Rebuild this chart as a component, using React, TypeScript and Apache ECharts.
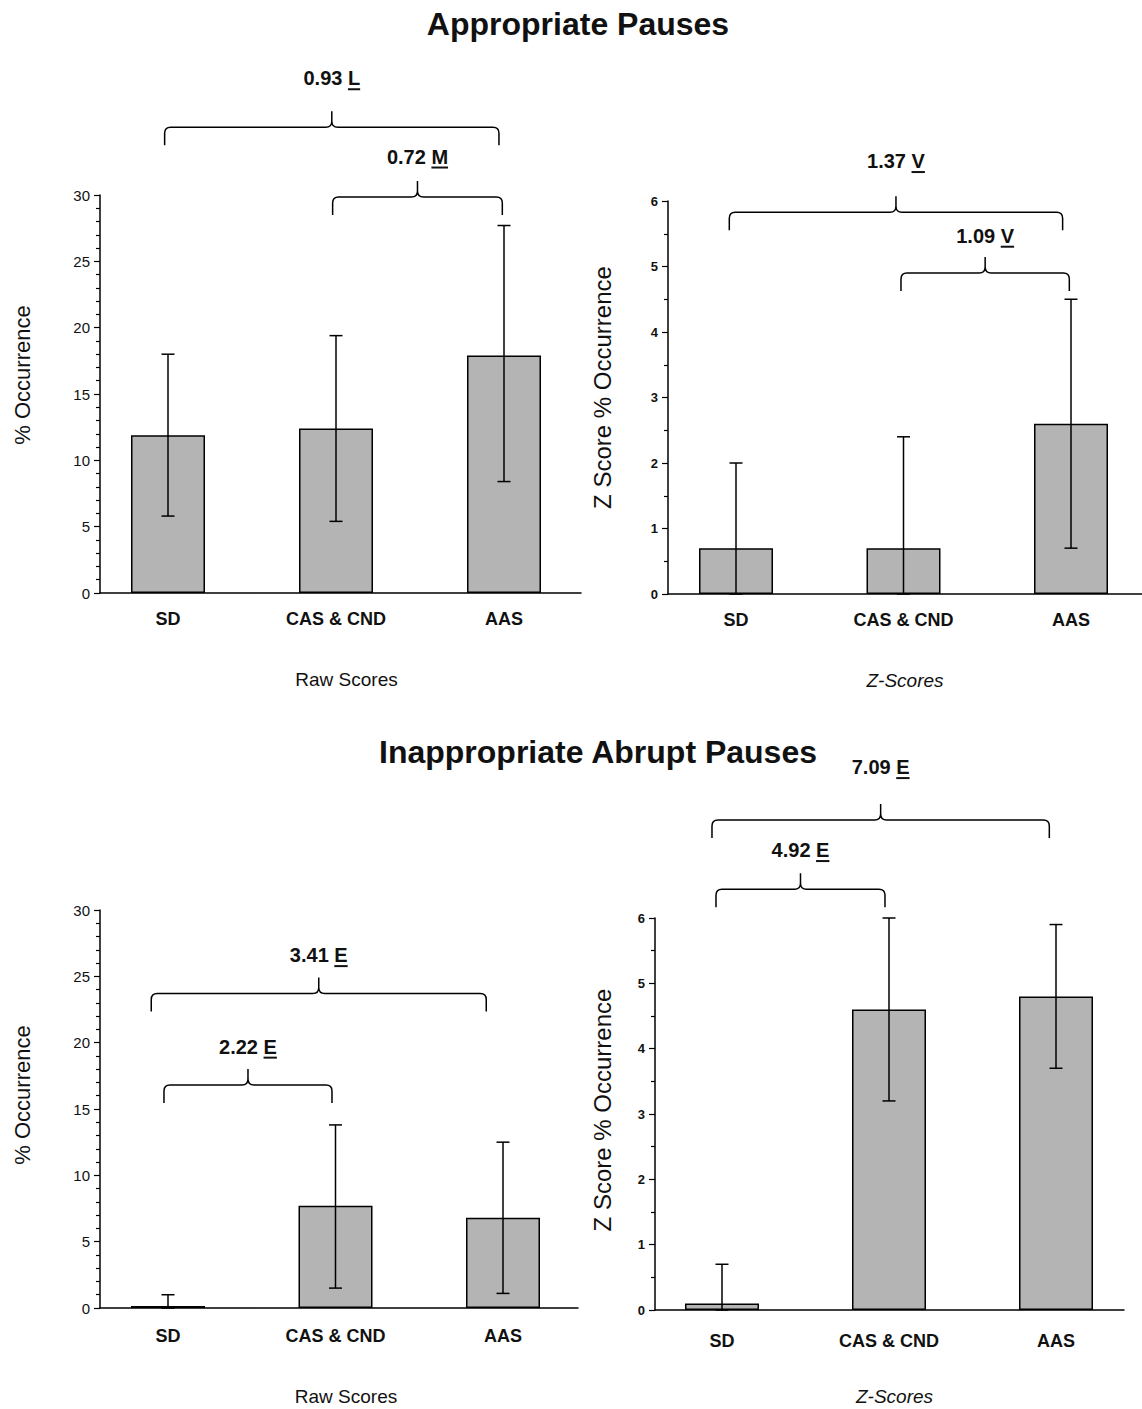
import React, { useEffect, useRef } from "react";
import * as echarts from "echarts";

// ---------- data ----------
const categories = ["SD", "CAS & CND", "AAS"];

// Appropriate Pauses – raw scores (% occurrence)
const apRawMean = [11.9, 12.4, 17.9];
const apRawLow = [5.8, 5.4, 8.4];
const apRawHigh = [18.0, 19.4, 27.7];
// Appropriate Pauses – z-scores
const apZMean = [0.7, 0.7, 2.6];
const apZLow = [0, 0, 0.7];
const apZHigh = [2.0, 2.4, 4.5];
// Inappropriate Abrupt Pauses – raw scores
const iaRawMean = [0.15, 7.7, 6.8];
const iaRawLow = [0, 1.5, 1.1];
const iaRawHigh = [1.0, 13.8, 12.5];
// Inappropriate Abrupt Pauses – z-scores
const iaZMean = [0.1, 4.6, 4.8];
const iaZLow = [0, 3.2, 3.7];
const iaZHigh = [0.7, 6.0, 5.9];

// effect-size brackets: [fromCategory, toCategory, bracketLevel, labelLevel] (data units)
const apRawBrackets = [[-0.02, 1.97, 35.1, 38.8], [0.98, 1.99, 29.85, 32.9]];
const apRawEffects = [["0.93", "L"], ["0.72", "M"]];
const apZBrackets = [[-0.04, 1.95, 5.83, 6.61], [0.985, 1.99, 4.9, 5.47]];
const apZEffects = [["1.37", "V"], ["1.09", "V"]];
const iaRawBrackets = [[-0.1, 1.9, 23.7, 26.6], [-0.024, 0.979, 16.81, 19.7]];
const iaRawEffects = [["3.41", "E"], ["2.22", "E"]];
const iaZBrackets = [[-0.06, 1.96, 7.5, 8.31], [-0.036, 0.976, 6.44, 7.04]];
const iaZEffects = [["7.09", "E"], ["4.92", "E"]];

// axis scales
const rawMax = 30;
const rawInterval = 5;
const zMax = 6;
const zInterval = 1;

const titles = ["Appropriate Pauses", "Inappropriate Abrupt Pauses"];
const xNames = ["Raw Scores", "Z-Scores"];
const yNames = ["% Occurrence", "Z Score % Occurrence"];

// ---------- layout ----------
const FONT = '"Liberation Sans", Arial, Helvetica, sans-serif';

type Panel = {
  grid: { left: number; top: number; width: number; height: number };
  unit: number;
  offset: number;
  mean: number[];
  low: number[];
  high: number[];
  brackets: number[][];
  effects: string[][];
  max: number;
  interval: number;
  minorSplit: number;
  xName: string;
  yName: string;
  italic: boolean;
  tickFont: number;
  tickBold: boolean;
  labelMargin: number;
  xNameGap: number;
  xNamePad: number;
  yNameGap: number;
  yNamePad: number;
  yNameSize: number;
};

const panels: Panel[] = [
  {
    grid: { left: 100, top: 195, width: 481, height: 398 },
    unit: 168, offset: 68,
    mean: apRawMean, low: apRawLow, high: apRawHigh,
    brackets: apRawBrackets, effects: apRawEffects,
    max: rawMax, interval: rawInterval, minorSplit: 5,
    xName: xNames[0], yName: yNames[0], italic: false,
    tickFont: 15, tickBold: false, labelMargin: 17,
    xNameGap: 77, xNamePad: 12, yNameGap: 67, yNamePad: 38, yNameSize: 22,
  },
  {
    grid: { left: 668, top: 201, width: 474, height: 393 },
    unit: 167.5, offset: 68,
    mean: apZMean, low: apZLow, high: apZHigh,
    brackets: apZBrackets, effects: apZEffects,
    max: zMax, interval: zInterval, minorSplit: 2,
    xName: xNames[1], yName: yNames[1], italic: true,
    tickFont: 13, tickBold: true, labelMargin: 17,
    xNameGap: 77, xNamePad: 0, yNameGap: 54, yNamePad: 20, yNameSize: 24,
  },
  {
    grid: { left: 100, top: 910, width: 478, height: 398 },
    unit: 167.5, offset: 68,
    mean: iaRawMean, low: iaRawLow, high: iaRawHigh,
    brackets: iaRawBrackets, effects: iaRawEffects,
    max: rawMax, interval: rawInterval, minorSplit: 5,
    xName: xNames[0], yName: yNames[0], italic: false,
    tickFont: 15, tickBold: false, labelMargin: 19,
    xNameGap: 79, xNamePad: 14, yNameGap: 67, yNamePad: 28, yNameSize: 22,
  },
  {
    grid: { left: 655, top: 918, width: 469, height: 392 },
    unit: 167, offset: 67,
    mean: iaZMean, low: iaZLow, high: iaZHigh,
    brackets: iaZBrackets, effects: iaZEffects,
    max: zMax, interval: zInterval, minorSplit: 2,
    xName: xNames[1], yName: yNames[1], italic: true,
    tickFont: 13, tickBold: true, labelMargin: 22,
    xNameGap: 77, xNamePad: 10, yNameGap: 41, yNamePad: 8, yNameSize: 24,
  },
];

let measureCtx: CanvasRenderingContext2D | null = null;
function textWidth(text: string, font: string): number {
  if (!measureCtx) measureCtx = document.createElement("canvas").getContext("2d");
  if (!measureCtx) return text.length * 10;
  measureCtx.font = font;
  return measureCtx.measureText(text).width;
}

function buildOption() {
  const grid: any[] = [];
  const xAxis: any[] = [];
  const yAxis: any[] = [];
  const series: any[] = [];

  panels.forEach((p, i) => {
    grid.push({ ...p.grid, containLabel: false });
    const xMin = -p.offset / p.unit;
    const xMax = xMin + p.grid.width / p.unit;
    xAxis.push({
      type: "value",
      gridIndex: i,
      min: xMin,
      max: xMax,
      axisLine: { show: true, onZero: false, lineStyle: { color: "#000", width: 1.5 } },
      axisTick: { show: false },
      splitLine: { show: false },
      axisLabel: {
        customValues: [0, 1, 2],
        formatter: (v: number) => categories[Math.round(v)] ?? "",
        fontFamily: FONT,
        fontWeight: "bold",
        fontSize: 18,
        color: "#111",
        margin: p.labelMargin,
      },
      name: p.xName,
      nameLocation: "middle",
      nameGap: p.xNameGap,
      nameTextStyle: {
        fontFamily: FONT,
        fontSize: 19,
        fontStyle: p.italic ? "italic" : "normal",
        color: "#111",
        padding: [0, 0, 0, p.xNamePad],
      },
    });
    yAxis.push({
      type: "value",
      gridIndex: i,
      min: 0,
      max: p.max,
      interval: p.interval,
      axisLine: { show: true, onZero: false, lineStyle: { color: "#000", width: 1.5 } },
      axisTick: { show: true, length: 6, lineStyle: { color: "#000", width: 1.2 } },
      minorTick: { show: true, splitNumber: p.minorSplit, length: 4, lineStyle: { color: "#000", width: 1.2 } },
      splitLine: { show: false },
      axisLabel: {
        fontFamily: FONT,
        fontSize: p.tickFont,
        fontWeight: p.tickBold ? "bold" : "normal",
        color: "#111",
        margin: 10,
      },
      name: p.yName,
      nameLocation: "middle",
      nameGap: p.yNameGap,
      nameTextStyle: {
        fontFamily: FONT,
        fontSize: p.yNameSize,
        color: "#111",
        padding: [0, 0, 0, p.yNamePad],
      },
    });

    series.push({
      type: "bar",
      xAxisIndex: i,
      yAxisIndex: i,
      barWidth: 74,
      data: p.mean.map((v, k) => [k, v]),
      itemStyle: { color: "#b4b4b4", borderColor: "#000", borderWidth: 1.5 },
      z: 2,
    });

    series.push({
      type: "custom",
      xAxisIndex: i,
      yAxisIndex: i,
      z: 3,
      clip: false,
      data: p.mean.map((_, k) => [k, p.low[k], p.high[k]]),
      renderItem: (params: any, api: any) => {
        const x = api.value(0);
        const lo = api.coord([x, api.value(1)]);
        const hi = api.coord([x, api.value(2)]);
        const hw = 6.5;
        const st = { stroke: "#000", lineWidth: 1.5 };
        return {
          type: "group",
          children: [
            { type: "line", shape: { x1: lo[0], y1: lo[1], x2: hi[0], y2: hi[1] }, style: st },
            { type: "line", shape: { x1: hi[0] - hw, y1: hi[1], x2: hi[0] + hw, y2: hi[1] }, style: st },
            { type: "line", shape: { x1: lo[0] - hw, y1: lo[1], x2: lo[0] + hw, y2: lo[1] }, style: st },
          ],
        };
      },
    });

    series.push({
      type: "custom",
      xAxisIndex: i,
      yAxisIndex: i,
      z: 4,
      clip: false,
      data: p.brackets.map((b, k) => [b[0], b[2], b[1], b[3], k]),
      renderItem: (params: any, api: any) => {
        const from = api.value(0);
        const level = api.value(1);
        const to = api.value(2);
        const labelLevel = api.value(3);
        const k = api.value(4);
        const a = api.coord([from, level]);
        const b = api.coord([to, level]);
        const midVal = (from + to) / 2;
        const lab = api.coord([midVal, labelLevel]);
        const x1 = a[0], x2 = b[0], y = a[1];
        const mid = (x1 + x2) / 2;
        const r = 6, drop = 18, tip = 16;
        const d =
          `M${x1} ${y + drop} L${x1} ${y + r} Q${x1} ${y} ${x1 + r} ${y} ` +
          `L${mid - r} ${y} Q${mid} ${y} ${mid} ${y - r} L${mid} ${y - tip} ` +
          `M${mid} ${y - r} Q${mid} ${y} ${mid + r} ${y} ` +
          `L${x2 - r} ${y} Q${x2} ${y} ${x2} ${y + r} L${x2} ${y + drop}`;
        const [num, letter] = p.effects[k];
        const fs = 20;
        const font = `bold ${fs}px ${FONT}`;
        const full = textWidth(num + " " + letter, font);
        const start = lab[0] - full / 2;
        const lx = start + textWidth(num + " ", font);
        const lw = textWidth(letter, font);
        const textStyle = {
          fill: "#111",
          fontFamily: FONT,
          fontWeight: "bold",
          fontSize: fs,
          align: "left",
          verticalAlign: "middle",
        };
        return {
          type: "group",
          children: [
            { type: "path", shape: { pathData: d }, style: { stroke: "#000", fill: "none", lineWidth: 1.5 } },
            { type: "text", x: start, y: lab[1], style: { ...textStyle, text: num } },
            { type: "text", x: lx, y: lab[1], style: { ...textStyle, text: letter } },
            {
              type: "line",
              shape: { x1: lx, y1: lab[1] + fs * 0.55, x2: lx + lw, y2: lab[1] + fs * 0.55 },
              style: { stroke: "#111", lineWidth: 2 },
            },
          ],
        };
      },
    });
  });

  return {
    animation: false,
    backgroundColor: "#fff",
    grid,
    xAxis,
    yAxis,
    series,
    graphic: [
      {
        type: "text",
        x: 578,
        y: 24,
        style: { text: titles[0], fontFamily: FONT, fontWeight: "bold", fontSize: 32, fill: "#111", align: "center", verticalAlign: "middle" },
      },
      {
        type: "text",
        x: 598,
        y: 752,
        style: { text: titles[1], fontFamily: FONT, fontWeight: "bold", fontSize: 32, fill: "#111", align: "center", verticalAlign: "middle" },
      },
    ],
  };
}

export default function App() {
  const ref = useRef<HTMLDivElement>(null);
  useEffect(() => {
    document.body.style.margin = "0";
    if (!ref.current) return;
    const chart = echarts.init(ref.current, undefined, { renderer: "svg" });
    chart.setOption(buildOption() as any);
    return () => chart.dispose();
  }, []);
  return <div ref={ref} style={{ width: 1142, height: 1409 }} />;
}
